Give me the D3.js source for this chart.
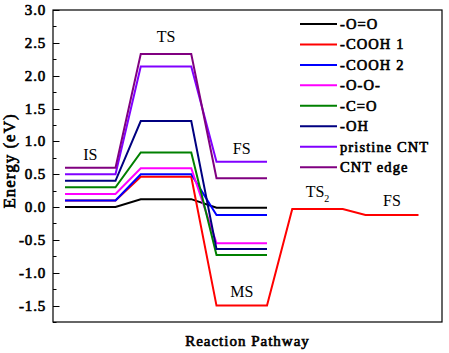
<!DOCTYPE html>
<html><head><meta charset="utf-8">
<script src="https://cdn.jsdelivr.net/npm/d3@7"></script>
<style>body{margin:0;background:#fff}svg{display:block}text{font-family:"Liberation Serif","Times New Roman",serif}
.b{stroke:#000;stroke-width:0.65px;paint-order:fill}</style>
</head><body><svg id="c" width="449" height="353"></svg>
<script>
// stage x-extents (reaction coordinate units)
const stageX = [[0,2],[3,5],[6,8],[9,11],[11.9,14]];
const seriesNames = ["-O=O","-COOH 1","-COOH 2","-O-O-","-C=O","-OH","pristine CNT","CNT edge"];
const seriesColors = ["#000000","#ff0000","#0000ff","#ff00ff","#008000","#000080","#8000ff","#800080"];
const seriesValues = [
  [0.00, 0.12, -0.01],
  [0.10, 0.46, -1.50, -0.03, -0.12],
  [0.10, 0.50, -0.12],
  [0.20, 0.59, -0.55],
  [0.30, 0.83, -0.73],
  [0.40, 1.31, -0.64],
  [0.50, 2.14, 0.69],
  [0.60, 2.33, 0.44]
];
const yTicks = [-1.5,-1.0,-0.5,0.0,0.5,1.0,1.5,2.0,2.5,3.0];
const stateLabels = [
  {t:"IS", x:1, y:0.6, dy:-8},
  {t:"TS", x:4, y:2.33, dy:-12},
  {t:"FS", x:7, y:0.69, dy:-8},
  {t:"MS", x:7, y:-1.5, dy:-9},
  {t:"TS", sub:"2", x:10, y:-0.03, dy:-12},
  {t:"FS", x:12.95, y:-0.12, dy:-9}
];

const svg = d3.select("#c");
const L=53, T=10, R=442, B=322;
const x = d3.scaleLinear().domain([0,14]).range([65,418.5]);
const y = d3.scaleLinear().domain([-1.75,3.0]).range([B,T]);

// frame
svg.append("rect").attr("x",L).attr("y",T).attr("width",R-L).attr("height",B-T)
  .attr("fill","none").attr("stroke","#000").attr("stroke-width",1.2);

// y axis inward ticks
const minor = d3.range(-1.75,3.0001,0.25);
svg.selectAll(".mt").data(minor).enter().append("line")
  .attr("x1",L).attr("x2",d=>L+(Math.abs(d*2-Math.round(d*2))<1e-6?6.5:3.5))
  .attr("y1",d=>Math.round(y(d))+0.5).attr("y2",d=>Math.round(y(d))+0.5)
  .attr("stroke","#000").attr("stroke-width",1);
svg.selectAll(".tl").data(yTicks).enter().append("text").attr("class","b")
  .attr("x",46).attr("y",d=>y(d)+5).attr("text-anchor","end")
  .attr("font-size",15).attr("letter-spacing","0.8px")
  .text(d=>d.toFixed(1));

// y label
svg.append("text").attr("class","b").attr("transform","translate(15,161) rotate(-90)")
  .attr("text-anchor","middle").attr("font-size",17)
  .attr("letter-spacing","1px").text("Energy (eV)");
// x label
svg.append("text").attr("class","b").attr("x",247.5).attr("y",346).attr("text-anchor","middle")
  .attr("font-size",15).attr("letter-spacing","1px")
  .text("Reaction Pathway");

// series lines
const line = d3.line().x(d=>x(d[0])).y(d=>y(d[1]));
seriesValues.forEach((vals,i)=>{
  const pts=[];
  vals.forEach((v,k)=>{pts.push([stageX[k][0],v]);pts.push([stageX[k][1],v]);});
  svg.append("path").attr("d",line(pts)).attr("fill","none")
    .attr("stroke",seriesColors[i]).attr("stroke-width",2).attr("stroke-linejoin","miter");
});

// state labels
stateLabels.forEach(s=>{
  const t=svg.append("text").attr("x",x(s.x)).attr("y",y(s.y)+s.dy)
    .attr("text-anchor","middle").attr("font-size",16);
  t.append("tspan").text(s.t);
  if(s.sub){t.append("tspan").attr("font-size",10).attr("dy",5).text(s.sub);}
});

// legend
const lg = svg.append("g");
seriesNames.forEach((n,i)=>{
  const yy = 24 + i*20.45;
  lg.append("line").attr("x1",300).attr("x2",337).attr("y1",yy).attr("y2",yy)
    .attr("stroke",seriesColors[i]).attr("stroke-width",2);
  lg.append("text").attr("class","b").attr("x",340).attr("y",yy+5).attr("font-size",14.5)
    .attr("letter-spacing","1.1px").text(n);
});
</script></body></html>
